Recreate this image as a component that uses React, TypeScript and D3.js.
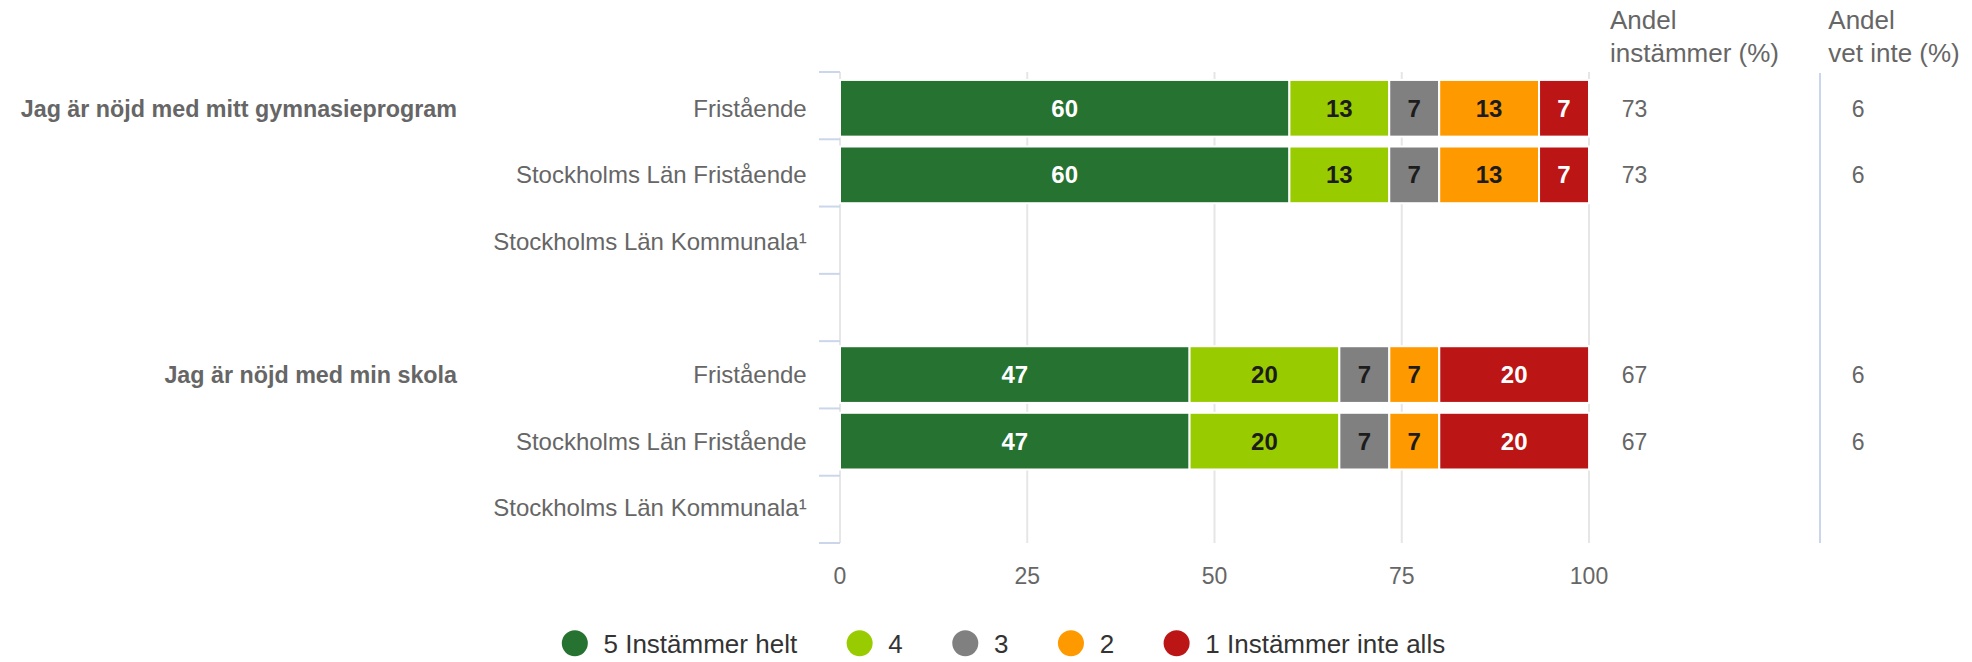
import React from "react";
import * as d3 from "d3";

const groupLabels = ["Jag är nöjd med mitt gymnasieprogram", "Jag är nöjd med min skola"];
const subCategories = ["Fristående", "Stockholms Län Fristående", "Stockholms Län Kommunala¹"];
const seriesNames = ["5 Instämmer helt", "4", "3", "2", "1 Instämmer inte alls"];
const seriesColors = ["#267230", "#99cc00", "#808080", "#ff9900", "#bb1515"];
const labelColors = ["#ffffff", "#1c1c1c", "#1c1c1c", "#1c1c1c", "#ffffff"];

// rows: group1 (3 rows), group2 (3 rows)
const s5 = [60, 60, 0, 46.67, 46.67, 0];
const s4 = [13.33, 13.33, 0, 20, 20, 0];
const s3 = [6.67, 6.67, 0, 6.67, 6.67, 0];
const s2 = [13.33, 13.33, 0, 6.67, 6.67, 0];
const s1 = [6.67, 6.67, 0, 20, 20, 0];
const andelInstammer = [73, 73, null, 67, 67, null];
const andelVetInte = [6, 6, null, 6, 6, null];
const xTicks = [0, 25, 50, 75, 100];

const FONT = "'Liberation Sans', Arial, Helvetica, sans-serif";
const W = 1972;
const H = 662;

function measure(text: string, font: string): number {
  const c = document.createElement("canvas");
  const ctx = c.getContext("2d");
  if (!ctx) return text.length * 12;
  ctx.font = font;
  return ctx.measureText(text).width;
}

export default function App() {
  const x = d3.scaleLinear().domain([0, 100]).range([840, 1589]);
  const slots = d3.range(7);
  const y = d3.scaleBand<number>().domain(slots).range([75, 541]).paddingInner(0).paddingOuter(0);
  const step = y.step();
  const barH = 56.7;
  const tickScale = d3.scaleLinear().domain([0, 7]).range([72, 543]);

  const rows = d3.range(6).map((i) => ({
    idx: i,
    slot: Math.floor(i / 3) * 4 + (i % 3),
    sub: subCategories[i % 3],
    v: [s5[i], s4[i], s3[i], s2[i], s1[i]],
  }));

  const stack = d3
    .stack<any, number>()
    .keys([0, 1, 2, 3, 4])
    .value((d, k) => d.v[k]);
  const stacked = stack(rows as any);

  const cy = (slot: number) => (y(slot) as number) + step / 2;

  // legend layout
  const legendFont = `26px ${FONT}`;
  let lx = 561.8;
  const legendItems = seriesNames.map((name, i) => {
    const tw = measure(name, legendFont);
    const item = { name, color: seriesColors[i], cx: lx + 13, tx: lx + 41.7 };
    lx = lx + 41.7 + tw + 49.5;
    return item;
  });

  const tickBounds = d3.range(8).map((i) => tickScale(i));

  return (
    <div style={{ position: "absolute", left: 0, top: 0 }}>
      <svg width={W} height={H} style={{ display: "block", background: "#ffffff" }} fontFamily={FONT}>
        {/* grid lines */}
        {xTicks.slice(1).map((t) => (
          <line key={"g" + t} x1={x(t)} x2={x(t)} y1={72} y2={543} stroke="#e6e6e6" strokeWidth={2} />
        ))}
        {/* category axis line */}
        <line x1={840} x2={840} y1={72} y2={543} stroke="#e6e6e6" strokeWidth={2} />
        {/* category ticks */}
        {tickBounds.map((t, i) => (
          <line key={"t" + i} x1={819} x2={840} y1={t} y2={t} stroke="#ccd6eb" strokeWidth={2} />
        ))}
        {/* right separator */}
        <line x1={1820} x2={1820} y1={73} y2={543} stroke="#ccd6eb" strokeWidth={2} />

        {/* bars */}
        {stacked.map((layer, si) =>
          layer.map((seg, ri) => {
            const row = rows[ri];
            const val = row.v[si];
            if (!val) return null;
            const x0 = x(seg[0]);
            const x1 = x(seg[1]);
            const c = cy(row.slot);
            return (
              <g key={`b${si}-${ri}`}>
                <rect
                  x={x0}
                  y={c - barH / 2}
                  width={x1 - x0}
                  height={barH}
                  fill={seriesColors[si]}
                  stroke="#ffffff"
                  strokeWidth={2}
                />
                <text
                  x={(x0 + x1) / 2}
                  y={c + 8.5}
                  textAnchor="middle"
                  fontWeight="bold"
                  fontSize={24}
                  fill={labelColors[si]}
                >
                  {Math.round(val)}
                </text>
              </g>
            );
          })
        )}

        {/* sub category labels */}
        {rows.map((row) => (
          <text key={"s" + row.idx} x={806.7} y={cy(row.slot) + 8.6} textAnchor="end" fontSize={24} fill="#666666">
            {row.sub}
          </text>
        ))}
        {/* group labels */}
        {groupLabels.map((g, gi) => (
          <text key={"grp" + gi} x={457} y={cy(gi * 4) + 8.3} textAnchor="end" fontSize={23.3} fontWeight="bold" fill="#666666">
            {g}
          </text>
        ))}

        {/* x axis labels */}
        {xTicks.map((t) => (
          <text key={"xl" + t} x={x(t)} y={584.3} textAnchor="middle" fontSize={23} fill="#666666">
            {t}
          </text>
        ))}

        {/* headers */}
        <text x={1610} y={29.3} fontSize={26} fill="#666666">Andel</text>
        <text x={1610} y={61.7} fontSize={26} fill="#666666">instämmer (%)</text>
        <text x={1828.3} y={29.3} fontSize={26} fill="#666666">Andel</text>
        <text x={1828.3} y={61.7} fontSize={26} fill="#666666">vet inte (%)</text>

        {/* value columns */}
        {rows.map((row) =>
          andelInstammer[row.idx] == null ? null : (
            <text key={"ai" + row.idx} x={1621.7} y={cy(row.slot) + 8.4} fontSize={23} fill="#666666">
              {andelInstammer[row.idx]}
            </text>
          )
        )}
        {rows.map((row) =>
          andelVetInte[row.idx] == null ? null : (
            <text key={"av" + row.idx} x={1851.7} y={cy(row.slot) + 8.4} fontSize={23} fill="#666666">
              {andelVetInte[row.idx]}
            </text>
          )
        )}

        {/* legend */}
        {legendItems.map((it) => (
          <g key={"lg" + it.name}>
            <circle cx={it.cx} cy={643.3} r={13} fill={it.color} />
            <text x={it.tx} y={652.5} fontSize={26} fill="#333333">
              {it.name}
            </text>
          </g>
        ))}
      </svg>
    </div>
  );
}
